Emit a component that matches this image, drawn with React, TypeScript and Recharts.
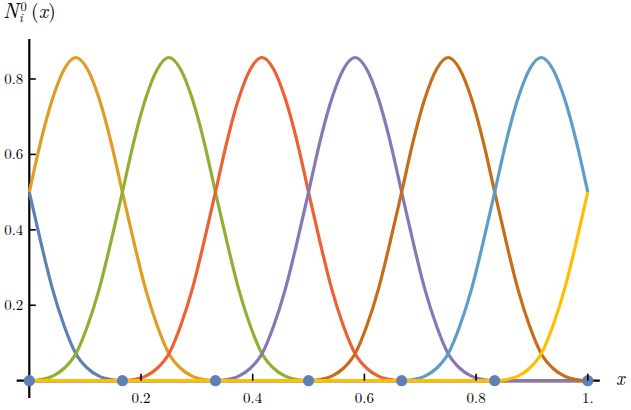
import {
  ComposedChart,
  Line,
  ReferenceLine,
  Scatter,
  XAxis,
  YAxis,
} from "recharts";

// x grid (steps of 1/48)
const xs = [
  0, 0.0208, 0.0417, 0.0625, 0.0833, 0.1042, 0.125, 0.1458, 0.1667, 0.1875, 0.2083, 0.2292, 0.25,
  0.2708, 0.2917, 0.3125, 0.3333, 0.3542, 0.375, 0.3958, 0.4167, 0.4375, 0.4583, 0.4792, 0.5,
  0.5208, 0.5417, 0.5625, 0.5833, 0.6042, 0.625, 0.6458, 0.6667, 0.6875, 0.7083, 0.7292, 0.75,
  0.7708, 0.7917, 0.8125, 0.8333, 0.8542, 0.875, 0.8958, 0.9167, 0.9375, 0.9583, 0.9792, 1,
];

// basis functions
const n1 = [
  0.5, 0.366, 0.242, 0.145, 0.0715, 0.033, 0.012, 0.003, 0,
  0, 0, 0, 0, 0, 0, 0, 0,
  0, 0, 0, 0, 0, 0, 0, 0,
  0, 0, 0, 0, 0, 0, 0, 0,
  0, 0, 0, 0, 0, 0, 0, 0,
  0, 0, 0, 0, 0, 0, 0, 0,
];
const n2 = [
  0.5, 0.636, 0.748, 0.826, 0.857, 0.826, 0.748, 0.636, 0.5, 0.366, 0.242, 0.145, 0.0715, 0.033, 0.012, 0.003, 0,
  0, 0, 0, 0, 0, 0, 0, 0,
  0, 0, 0, 0, 0, 0, 0, 0,
  0, 0, 0, 0, 0, 0, 0, 0,
  0, 0, 0, 0, 0, 0, 0, 0,
];
const n3 = [
  0, 0.003, 0.012, 0.033, 0.0715, 0.145, 0.242, 0.366, 0.5, 0.636, 0.748, 0.826, 0.857,
  0.826, 0.748, 0.636, 0.5, 0.366, 0.242, 0.145, 0.0715, 0.033, 0.012, 0.003, 0,
  0, 0, 0, 0, 0, 0, 0, 0,
  0, 0, 0, 0, 0, 0, 0, 0,
  0, 0, 0, 0, 0, 0, 0, 0,
];
const n4 = [
  0, 0, 0, 0, 0, 0, 0, 0,
  0, 0.003, 0.012, 0.033, 0.0715, 0.145, 0.242, 0.366, 0.5, 0.636, 0.748, 0.826, 0.857,
  0.826, 0.748, 0.636, 0.5, 0.366, 0.242, 0.145, 0.0715, 0.033, 0.012, 0.003, 0,
  0, 0, 0, 0, 0, 0, 0, 0,
  0, 0, 0, 0, 0, 0, 0, 0,
];
const n5 = [
  0, 0, 0, 0, 0, 0, 0, 0,
  0, 0, 0, 0, 0, 0, 0, 0,
  0, 0.003, 0.012, 0.033, 0.0715, 0.145, 0.242, 0.366, 0.5, 0.636, 0.748, 0.826, 0.857,
  0.826, 0.748, 0.636, 0.5, 0.366, 0.242, 0.145, 0.0715, 0.033, 0.012, 0.003, 0,
  0, 0, 0, 0, 0, 0, 0, 0,
];
const n6 = [
  0, 0, 0, 0, 0, 0, 0, 0,
  0, 0, 0, 0, 0, 0, 0, 0,
  0, 0, 0, 0, 0, 0, 0, 0,
  0, 0.003, 0.012, 0.033, 0.0715, 0.145, 0.242, 0.366, 0.5, 0.636, 0.748, 0.826, 0.857,
  0.826, 0.748, 0.636, 0.5, 0.366, 0.242, 0.145, 0.0715, 0.033, 0.012, 0.003, 0,
];
const n7 = [
  0, 0, 0, 0, 0, 0, 0, 0,
  0, 0, 0, 0, 0, 0, 0, 0,
  0, 0, 0, 0, 0, 0, 0, 0,
  0, 0, 0, 0, 0, 0, 0, 0,
  0, 0.003, 0.012, 0.033, 0.0715, 0.145, 0.242, 0.366, 0.5, 0.636, 0.748, 0.826, 0.857,
  0.826, 0.748, 0.636, 0.5,
];
const n8 = [
  0, 0, 0, 0, 0, 0, 0, 0,
  0, 0, 0, 0, 0, 0, 0, 0,
  0, 0, 0, 0, 0, 0, 0, 0,
  0, 0, 0, 0, 0, 0, 0, 0,
  0, 0, 0, 0, 0, 0, 0, 0,
  0, 0.003, 0.012, 0.033, 0.0715, 0.145, 0.242, 0.366, 0.5,
];

// knot points on the axis
const knotX = [0, 0.1667, 0.3333, 0.5, 0.6667, 0.8333, 1];
const knotY = [0, 0, 0, 0, 0, 0, 0];

const xTicks = [0.2, 0.4, 0.6, 0.8, 1];
const xTickLabels = ["0.2", "0.4", "0.6", "0.8", "1."];
const yTicks = [0.2, 0.4, 0.6, 0.8];
const yTickLabels = ["0.2", "0.4", "0.6", "0.8"];

const series = [
  { key: "n1", values: n1, color: "#5E81B5" },
  { key: "n2", values: n2, color: "#E19C24" },
  { key: "n3", values: n3, color: "#8FB032" },
  { key: "n4", values: n4, color: "#EB6235" },
  { key: "n5", values: n5, color: "#8778B3" },
  { key: "n6", values: n6, color: "#C56E1A" },
  { key: "n7", values: n7, color: "#5D9EC7" },
  { key: "n8", values: n8, color: "#FFBF00" },
];

const data = xs.map((x, i) => {
  const row: Record<string, number> = { x };
  series.forEach((s) => (row[s.key] = s.values[i]));
  return row;
});
const knots = knotX.map((x, i) => ({ x, y: knotY[i] }));

const SERIF = "'Latin Modern Roman', 'CMU Serif', 'Liberation Serif', 'Times New Roman', serif";

const XTick = ({ x, y, payload }: any) => {
  const idx = xTicks.indexOf(payload.value);
  return (
    <g>
      <line x1={x} x2={x} y1={y - 7} y2={y} stroke="#000" strokeWidth={1.6} />
      <text x={x} y={y + 22.5} textAnchor="middle" fontFamily={SERIF} fontSize={15} fill="#000">
        {xTickLabels[idx]}
      </text>
    </g>
  );
};

const YTick = ({ x, y, payload }: any) => {
  const idx = yTicks.indexOf(payload.value);
  return (
    <g>
      <line x1={x} x2={x + 6.5} y1={y} y2={y} stroke="#000" strokeWidth={1.6} />
      <text x={x - 6} y={y + 5} textAnchor="end" fontFamily={SERIF} fontSize={15} fill="#000">
        {yTickLabels[idx]}
      </text>
    </g>
  );
};

export default function App() {
  return (
    <div style={{ position: "absolute", left: 0, top: 0, width: 631, height: 410, background: "#fff" }}>
      <ComposedChart
        width={631}
        height={410}
        data={data}
        margin={{ top: 39, right: 31.2, bottom: 9.3, left: 0.3 }}
      >
        <XAxis
          dataKey="x"
          type="number"
          domain={[0, 1.0215]}
          ticks={xTicks}
          axisLine={false}
          tickLine={false}
          tickSize={0}
          tickMargin={0}
          height={20}
          tick={<XTick />}
          interval={0}
        />
        <YAxis
          type="number"
          domain={[0, 0.906]}
          ticks={yTicks}
          axisLine={false}
          tickLine={false}
          tickSize={0}
          tickMargin={0}
          width={29}
          tick={<YTick />}
          interval={0}
        />
        <ReferenceLine
          segment={[{ x: -0.0226, y: 0 }, { x: 1.0215, y: 0 }]}
          stroke="#000"
          strokeWidth={2.2}
          ifOverflow="visible"
        />
        <ReferenceLine
          segment={[{ x: 0, y: -0.046 }, { x: 0, y: 0.906 }]}
          stroke="#000"
          strokeWidth={2.2}
          ifOverflow="visible"
        />
        {series.map((s) => (
          <Line
            key={s.key}
            dataKey={s.key}
            type="monotone"
            stroke={s.color}
            strokeWidth={3.2}
            dot={false}
            activeDot={false}
            isAnimationActive={false}
          />
        ))}
        <Scatter
          data={knots}
          dataKey="y"
          isAnimationActive={false}
          shape={(p: any) => <circle cx={p.cx} cy={p.cy} r={5.6} fill="#5E81B5" />}
        />
      </ComposedChart>
      <svg
        width={631}
        height={410}
        style={{ position: "absolute", left: 0, top: 0, pointerEvents: "none" }}
      >
        <g fontFamily={SERIF} fill="#000">
          <text x={3} y={17.5} fontSize={21} fontStyle="italic">N</text>
          <text x={20.5} y={11} fontSize={12.5}>0</text>
          <text x={19} y={22} fontSize={12.5} fontStyle="italic">i</text>
          <text x={31} y={17.5} fontSize={20}>
            (<tspan fontStyle="italic">x</tspan>)
          </text>
          <text x={616} y={385} fontSize={19} fontStyle="italic">x</text>
        </g>
      </svg>
    </div>
  );
}
